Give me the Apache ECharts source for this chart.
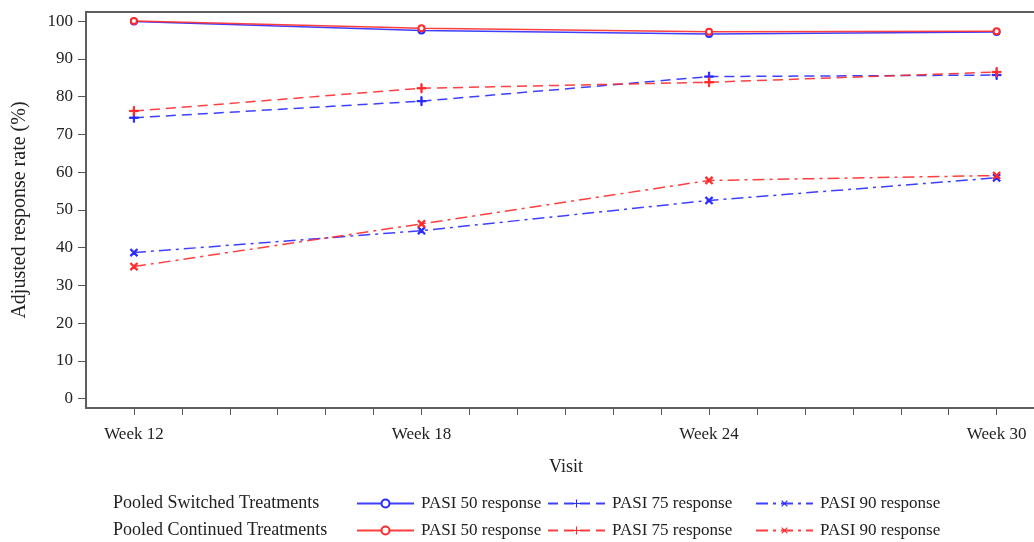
<!DOCTYPE html>
<html>
<head>
<meta charset="utf-8">
<script src="https://cdn.jsdelivr.net/npm/echarts@6/dist/echarts.min.js"></script>
<style>
html,body{margin:0;padding:0;background:#fff;}
#chart{width:1034px;height:542px;}
</style>
</head>
<body>
<div id="chart"></div>
<script>
const weeks = [12, 18, 24, 30];
const weekTicks = [12,13,14,15,16,17,18,19,20,21,22,23,24,25,26,27,28,29,30];
const weekLabels = [12, 18, 24, 30];
const yTicks = [0,10,20,30,40,50,60,70,80,90,100];

const switched50 = [99.9, 97.5, 96.6, 97.1];
const continued50 = [100.0, 98.1, 97.2, 97.3];
const switched75 = [74.4, 78.8, 85.3, 85.7];
const continued75 = [76.2, 82.2, 83.8, 86.5];
const switched90 = [38.7, 44.5, 52.5, 58.5];
const continued90 = [35.0, 46.3, 57.8, 59.1];

const groupLabels = ['Pooled Switched Treatments', 'Pooled Continued Treatments'];
const itemLabels = ['PASI 50 response', 'PASI 75 response', 'PASI 90 response'];

const BLUE = '#2a2aff';
const RED = '#ff2a2a';
const FONT = '"Liberation Serif", "DejaVu Serif", serif';
const PLUS = 'path://M0,4.3 L10,4.3 L10,5.7 L0,5.7 Z M4.3,0 L5.7,0 L5.7,10 L4.3,10 Z';

function pts(vals){ return weeks.map((w,i)=>[w, vals[i]]); }

function mk(name, vals, color, kind){
  const s = {
    name: name, type: 'line', data: pts(vals),
    lineStyle: {color: color, width: 1.5, opacity: 0.9},
    itemStyle: {color: color, borderColor: color},
    emphasis: {disabled: true}, z: 3
  };
  if (kind === 50){
    s.symbol = 'emptyCircle'; s.symbolSize = 6;
    s.itemStyle = {color: color, borderColor: color, borderWidth: 1.5};
    s.lineStyle.type = 'solid';
  } else if (kind === 75){
    s.symbol = PLUS; s.symbolSize = 9;
    s.lineStyle.type = [10, 6];
  } else {
    s.symbol = PLUS; s.symbolSize = 9; s.symbolRotate = 45;
    s.lineStyle.type = [12, 5, 3, 5];
  }
  return s;
}

const series = [
  mk('S|' + itemLabels[0], switched50, BLUE, 50),
  mk('S|' + itemLabels[1], switched75, BLUE, 75),
  mk('S|' + itemLabels[2], switched90, BLUE, 90),
  mk('C|' + itemLabels[0], continued50, RED, 50),
  mk('C|' + itemLabels[1], continued75, RED, 75),
  mk('C|' + itemLabels[2], continued90, RED, 90)
];

const legendLefts = [356, 547, 755];
const legendTops = [495, 522];
const legends = [];
['S','C'].forEach((g, r) => {
  itemLabels.forEach((lab, i) => {
    legends.push({
      data: [g + '|' + lab],
      left: legendLefts[i], top: legendTops[r],
      itemWidth: 57, itemHeight: 10, itemGap: 0,
      selectedMode: false,
      formatter: n => n.split('|')[1],
      textStyle: {fontFamily: FONT, fontSize: 17, color: '#222', padding: [0,0,0,2]},
      padding: 0
    });
  });
});

const axisLineStyle = {color: '#5e5e5e', width: 2};

const option = {
  backgroundColor: '#fff',
  animation: false,
  grid: {left: 86, right: 0, top: 12, bottom: 134, containLabel: false},
  xAxis: [{
    type: 'value', min: 11, max: 30.78, position: 'bottom',
    axisLine: {show: true, onZero: false, lineStyle: axisLineStyle},
    axisTick: {show: true, length: 7, customValues: weekTicks, lineStyle: {color: '#555', width: 1}},
    axisLabel: {show: true, customValues: weekLabels, formatter: v => 'Week ' + v, margin: 18,
      fontFamily: FONT, fontSize: 17, color: '#222'},
    splitLine: {show: false},
    name: 'Visit', nameLocation: 'middle', nameGap: 50,
    nameTextStyle: {fontFamily: FONT, fontSize: 18, color: '#222', padding: [0,0,0,12]}
  }, {
    type: 'value', min: 11, max: 30.78, position: 'top',
    axisLine: {show: true, onZero: false, lineStyle: axisLineStyle},
    axisTick: {show: false}, axisLabel: {show: false}, splitLine: {show: false}
  }],
  yAxis: [{
    type: 'value', min: -2.45, max: 102.4,
    axisLine: {show: true, onZero: false, lineStyle: axisLineStyle},
    axisTick: {show: true, length: 8, customValues: yTicks, lineStyle: {color: '#555', width: 1}},
    axisLabel: {show: true, customValues: yTicks, margin: 13,
      fontFamily: FONT, fontSize: 17, color: '#222'},
    splitLine: {show: false},
    name: 'Adjusted response rate (%)', nameLocation: 'middle', nameGap: 56, nameRotate: 90,
    nameTextStyle: {fontFamily: FONT, fontSize: 20, color: '#222'}
  }],
  legend: legends,
  graphic: [
    {type: 'text', left: 113, top: 494, style: {text: groupLabels[0], font: '18px ' + FONT, fill: '#222'}},
    {type: 'text', left: 113, top: 521, style: {text: groupLabels[1], font: '18px ' + FONT, fill: '#222'}}
  ],
  series: series
};

const chart = echarts.init(document.getElementById('chart'), null, {renderer: 'canvas'});
chart.setOption(option);
</script>
</body>
</html>
